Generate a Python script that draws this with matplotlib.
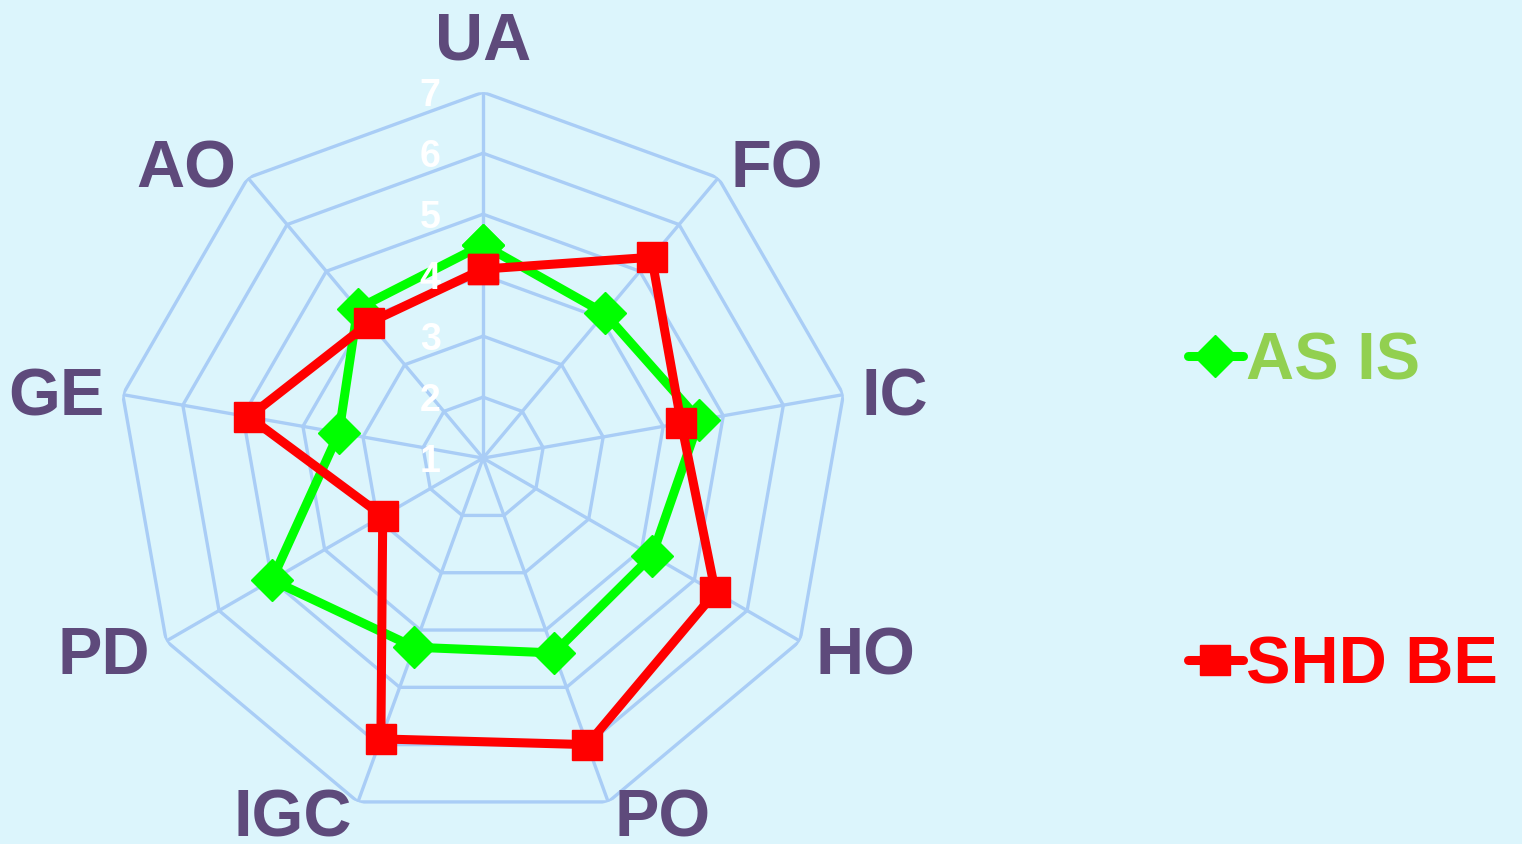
import numpy as np
import matplotlib
matplotlib.use('Agg')
import matplotlib.pyplot as plt

categories = ['UA', 'FO', 'IC', 'HO', 'PO', 'IGC', 'PD', 'GE', 'AO']
as_is = [4.5, 4.1, 4.6, 4.2, 4.4, 4.3, 5.0, 3.4, 4.2]
shd_be = [4.1, 5.3, 4.3, 5.4, 6.0, 5.9, 2.9, 4.9, 3.9]
ring_levels = [2, 3, 4, 5, 6, 7]
tick_labels = ['1', '2', '3', '4', '5', '6', '7']

BG = '#dcf5fc'
GRID = '#a9cdf6'
PURPLE = '#5e4a7b'
GREEN = '#00ff00'
RED = '#ff0000'
LEGEND_GREEN = '#92d050'

plt.rcParams['font.family'] = ['Liberation Sans', 'DejaVu Sans']
plt.rcParams['font.weight'] = 'bold'

fig = plt.figure(figsize=(15.22, 8.44), dpi=100, facecolor=BG)
ax = fig.add_axes([0.0769, 0.0237, 0.481, 0.867], projection='polar')
ax.set_facecolor(BG)
ax.set_theta_offset(np.pi / 2)
ax.set_theta_direction(-1)
ax.set_ylim(1, 7)
ax.grid(False)
ax.set_xticks([])
ax.set_yticks([])
ax.spines['polar'].set_visible(False)

n = len(categories)
angles = np.linspace(0, 2 * np.pi, n, endpoint=False)
closed = np.append(angles, angles[0])

# polygon grid + spokes
for lv in ring_levels:
    ax.plot(closed, [lv] * (n + 1), color=GRID, linewidth=2.4, zorder=1)
for a in angles:
    ax.plot([a, a], [1, 7], color=GRID, linewidth=2.4, zorder=1)

# radial tick labels along the UA spoke
for i, lab in enumerate(tick_labels):
    ax.annotate(lab, xy=(0, i + 1), xytext=(-38, -3), textcoords='offset points',
                ha='center', va='center', color='white', fontsize=27,
                fontweight='bold', zorder=10, annotation_clip=False)

# category labels, aligned away from the centre like Excel does
for a, lab in zip(angles, categories):
    deg = np.degrees(a)
    if deg < 1:
        ha, va = 'center', 'bottom'
    elif deg < 180:
        ha, va = 'left', 'center_baseline'
    else:
        ha, va = 'right', 'center_baseline'
    if 150 < deg < 210:
        va = 'center'
    ax.text(a, 7.3, lab, ha=ha, va=va, color=PURPLE,
            fontsize=48, fontweight='bold', clip_on=False)

l1, = ax.plot(closed, as_is + as_is[:1], color=GREEN, linewidth=6.5,
              marker='D', markersize=21, solid_capstyle='round', zorder=3,
              label='AS IS', clip_on=False)
l2, = ax.plot(closed, shd_be + shd_be[:1], color=RED, linewidth=6.5,
              marker='s', markersize=21, solid_capstyle='round', zorder=4,
              label='SHD BE', clip_on=False)

leg = fig.legend(handles=[l1, l2], loc='center left',
                 bbox_to_anchor=(0.7806, 0.3905), frameon=False, fontsize=48,
                 handlelength=0.82, handletextpad=0.05, labelspacing=3.63,
                 borderpad=0, borderaxespad=0)
for txt, col in zip(leg.get_texts(), [LEGEND_GREEN, RED]):
    txt.set_color(col)

fig.savefig('out.png', dpi=100, facecolor=BG)
